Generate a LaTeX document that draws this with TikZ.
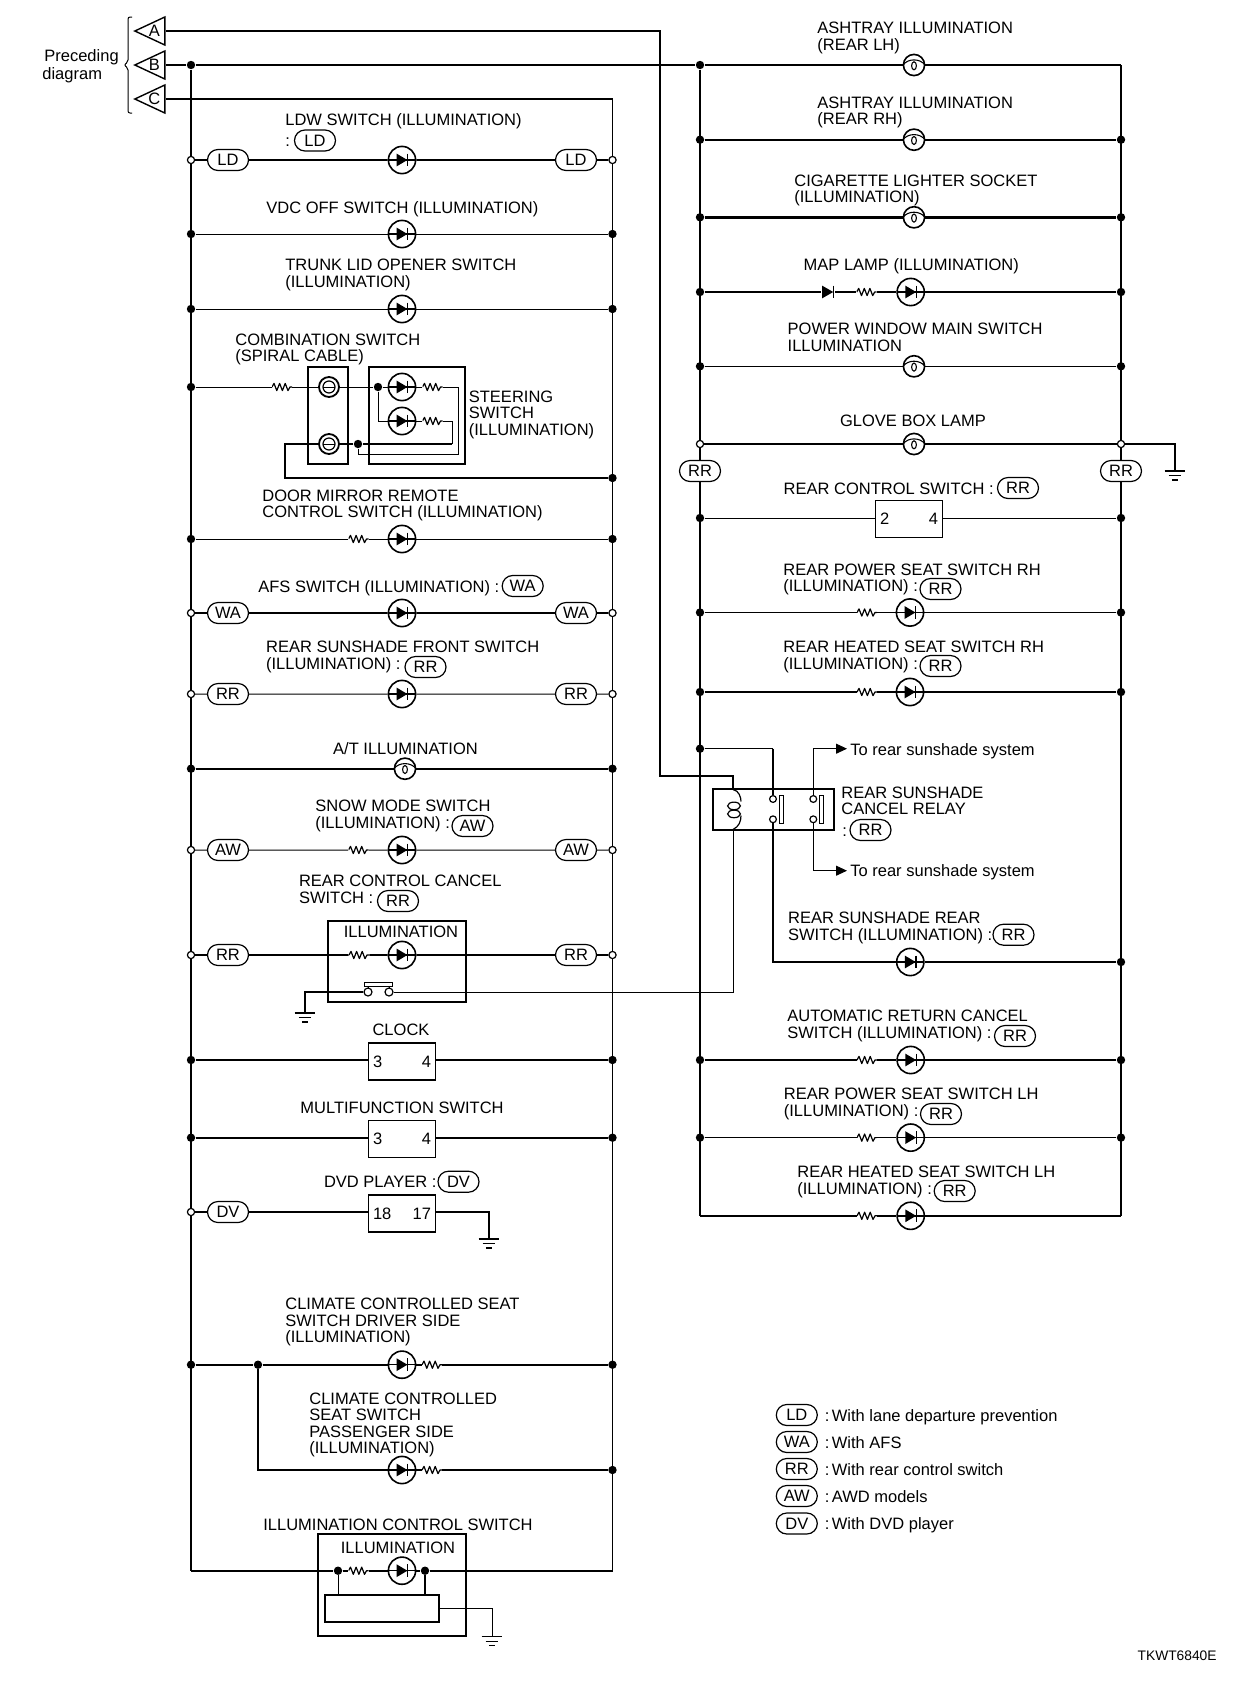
\documentclass[tikz,border=0pt]{standalone}
\usepackage{fontspec}
\setmainfont{Liberation Sans}
\usetikzlibrary{arrows.meta,shapes.geometric,shapes.misc}
\newcommand{\lblfont}{\fontsize{8.25}{8.25}\selectfont}
\tikzset{
  sym/.style={shift={(path picture bounding box.center)}},
  wire/.style={line width=.85pt},
  wirethin/.style={line width=.5pt},
  wirebold/.style={line width=1.2pt},
  lab/.style={anchor=base west,inner sep=0pt,align=left,font=\lblfont,yshift=-3pt},
  labc/.style={lab,anchor=base,align=center},
  dot/.style={circle,fill,inner sep=0pt,minimum size=4.2pt},
  odot/.style={circle,draw,fill=white,line width=.6pt,inner sep=0pt,minimum size=3.6pt},
  cont/.style={odot,minimum size=3.4pt},
  pill/.style={rounded rectangle,draw,fill=white,line width=.6pt,inner sep=0pt,minimum width=20.5pt,minimum height=10.5pt,font=\lblfont},
  box/.style={rectangle,draw,line width=.7pt,inner sep=0pt},
  modbox/.style={box,minimum width=33.5pt,minimum height=18.5pt,font=\lblfont},
  tri/.style={isosceles triangle,isosceles triangle stretches,shape border rotate=180,draw,line width=.7pt,inner sep=0pt,minimum height=15pt,minimum width=14pt,font=\lblfont,anchor=apex},
  led/.style={circle,draw,line width=.8pt,inner sep=0pt,minimum size=13.6pt,path picture={
    \draw[sym,line width=.7pt] (-7pt,0pt) -- (7pt,0pt);
    \fill[sym] (-2.7pt,3.2pt) -- (2.7pt,0pt) -- (-2.7pt,-3.2pt) -- cycle;
    \draw[sym,line width=.8pt] (2.8pt,3.2pt) -- (2.8pt,-3.2pt);}},
  lamp/.style={circle,draw,line width=.8pt,inner sep=0pt,minimum size=10.6pt,path picture={
    \draw[sym,line width=.55pt] (-5.5pt,0pt) .. controls (-3pt,3.4pt) and (3pt,3.4pt) .. (5.5pt,0pt);
    \draw[sym,line width=.55pt] (0pt,-.4pt) ellipse [x radius=1.2pt,y radius=2pt];}},
  spiral/.style={circle,draw,line width=.9pt,inner sep=0pt,minimum size=10pt,path picture={
    \draw[sym,line width=.6pt] (0pt,0pt) circle (3pt);
    \draw[sym,line width=.5pt] (-3pt,0pt) -- (3pt,0pt);}},
  resistor/.style={inner sep=0pt,minimum width=10pt,minimum height=6pt,path picture={
    \draw[sym,line width=.6pt,line join=round] (-5pt,0pt) -- (-4pt,1.8pt) -- (-2.6pt,-1.8pt) -- (-1.2pt,1.8pt)
      -- (.2pt,-1.8pt) -- (1.6pt,1.8pt) -- (3pt,-1.8pt) -- (4pt,0pt) -- (5pt,0pt);}},
  diode/.style={inner sep=0pt,minimum width=7pt,minimum height=7pt,path picture={
    \fill[sym] (-3pt,3.2pt) -- (2.6pt,0pt) -- (-3pt,-3.2pt) -- cycle;
    \draw[sym,line width=.8pt] (2.8pt,3.2pt) -- (2.8pt,-3.2pt);}},
  coilsym/.style={inner sep=0pt,minimum width=12pt,minimum height=20.5pt,path picture={
    \draw[sym,line width=.6pt] (0pt,10pt) .. controls (3pt,9.5pt) and (4pt,6pt) .. (4pt,4pt);
    \draw[sym,line width=.6pt] (.5pt,1.8pt) ellipse [x radius=3.2pt,y radius=1.9pt];
    \draw[sym,line width=.6pt] (.5pt,-2.2pt) ellipse [x radius=3.2pt,y radius=1.9pt];
    \draw[sym,line width=.6pt] (4pt,-3pt) .. controls (4pt,-6pt) and (3pt,-8.5pt) .. (0pt,-10pt);}},
  gnd/.style={anchor=north,inner sep=0pt,minimum width=10.4pt,minimum height=5.4pt,path picture={
    \draw[sym,line width=.6pt] (-5.2pt,2.4pt) -- (5.2pt,2.4pt);
    \draw[sym,line width=.6pt] (-3.2pt,.2pt) -- (3.2pt,.2pt);
    \draw[sym,line width=.8pt] (-1.6pt,-2pt) -- (1.6pt,-2pt);}}
}
\begin{document}
\begin{tikzpicture}[x=.5pt,y=-.5pt]
    \path[use as bounding box] (0,0) rectangle (1248,1682);

    % Connectors from the preceding diagram
    \node[lab,font=\fontsize{8.25}{9}\selectfont] (prec) at (42,73) {\hspace*{1pt}Preceding\\diagram};
    \draw[line width=.5pt,rounded corners=1pt] (132,17) -- (128,17) -- (128,62) -- (124,65) -- (128,68) -- (128,113) -- (132,113);
    \node[tri] (triA) at (133,31) {\hspace*{-5pt}A};
    \node[tri] (triB) at (133,65) {\hspace*{-5pt}B};
    \node[tri] (triC) at (133,99) {\hspace*{-5pt}C};

    % Buses
    \coordinate (busRtop) at (1121,65);
    \coordinate (busLbot) at (191,1570.7);
    \coordinate (thinTop) at (612.5,99);
    \coordinate (thinBot) at (612.5,1570.7);
    \coordinate (rhLbot) at (700,1215.8);
    \coordinate (rhRbot) at (1121,1215.8);
    \coordinate (cornA) at (660,776);
    \node[dot] (busL) at (191,65) {};
    \node[dot] (rhL) at (700,65) {};
    \draw[wire] (busL) -- (busLbot);
    \draw[wire] (triC.lower side) -- (thinTop);
    \draw[wirethin] (thinTop) -- (thinBot);
    \draw[wire] (rhL) -- (rhLbot);
    \draw[wire] (busRtop) -- (rhRbot);
    \draw[wire] (triB.lower side) -- (busL) -- (rhL);

    % Left side, top rows
    \node[lab] (ldwT) at (285,119) {LDW SWITCH (ILLUMINATION)};
    \node[lab] (ldwC) at (285,140) {:};
    \node[pill] (ldwP) at (315,140.5) {LD};
    \node[odot] (ldwL) at (191,160) {};
    \node[pill] (ldwA) at (228,160) {LD};
    \node[led] (ldw) at (402,160) {};
    \node[pill] (ldwB) at (576,160) {LD};
    \node[odot] (ldwR) at (612.5,160) {};
    \draw[wire] (ldwL) -- (ldwA) -- (ldw) -- (ldwB) -- (ldwR);

    \node[lab] (vdcT) at (266,207) {VDC OFF SWITCH (ILLUMINATION)};
    \node[dot] (vdcL) at (191,234) {};
    \node[led] (vdc) at (402,234) {};
    \node[dot] (vdcR) at (612.5,234) {};
    \draw[wirethin] (vdcL) -- (vdc) -- (vdcR);

    \node[lab] (trkT) at (285,281) {TRUNK LID OPENER SWITCH\\(ILLUMINATION)};
    \node[dot] (trkL) at (191,309) {};
    \node[led] (trk) at (402,309) {};
    \node[dot] (trkR) at (612.5,309) {};
    \draw[wirethin] (trkL) -- (trk) -- (trkR);

    % Combination switch and steering switch
    \node[lab] (cmbT) at (235,355.5) {COMBINATION SWITCH\\(SPIRAL CABLE)};
    \node[lab] (strT) at (468.5,429) {STEERING\\SWITCH\\(ILLUMINATION)};
    \node[box,minimum width=20pt,minimum height=48.5pt,line width=.6pt] (cmbBox) at (328,415.5) {};
    \node[box,minimum width=48pt,minimum height=48.5pt] (strBox) at (417,415.5) {};
    \node[dot] (cmbL) at (191,387) {};
    \node[resistor] (cmbRes) at (282,387) {};
    \node[spiral] (sp1) at (329,387) {};
    \node[spiral] (sp2) at (329,444) {};
    \node[dot] (strJa) at (378,387) {};
    \node[dot] (strJb) at (358,444) {};
    \node[led] (st1) at (402,387) {};
    \node[led] (st2) at (402,421) {};
    \node[resistor] (st1R) at (432.5,387) {};
    \node[resistor] (st2R) at (432.5,421) {};
    \node[dot] (harnR) at (612.5,478) {};
    \coordinate (st1C) at (458,454);
    \coordinate (st2C) at (452,444);
    \coordinate (harnC) at (285,444);
    \draw[wirethin] (cmbL) -- (cmbRes) -- (sp1) -- (strJa) -- (st1) -- (st1R) -| (st1C) -| (strJb);
    \draw[wirethin] (strJa) |- (st2) -- (st2R) -| (st2C);
    \draw[wire] (st2C) -- (strJb) -- (sp2) -- (harnC) |- (harnR);

    % Left side, middle rows
    \node[lab] (dmrT) at (262,511.7) {DOOR MIRROR REMOTE\\CONTROL SWITCH (ILLUMINATION)};
    \node[dot] (dmrL) at (191,539) {};
    \node[resistor] (dmrRes) at (358.5,539) {};
    \node[led] (dmr) at (402,539) {};
    \node[dot] (dmrR) at (612.5,539) {};
    \draw[wirethin] (dmrL) -- (dmrRes) -- (dmr) -- (dmrR);

    \node[lab] (afsT) at (258,586) {AFS SWITCH (ILLUMINATION) :};
    \node[pill] (afsP) at (522.7,586) {WA};
    \node[odot] (afsL) at (191,613) {};
    \node[pill] (afsA) at (228,613) {WA};
    \node[led] (afs) at (402,613) {};
    \node[pill] (afsB) at (576,613) {WA};
    \node[odot] (afsR) at (612.5,613) {};
    \draw[wire] (afsL) -- (afsA) -- (afs) -- (afsB) -- (afsR);

    \node[lab] (rsfT) at (265.7,663) {REAR SUNSHADE FRONT SWITCH\\(ILLUMINATION) :};
    \node[pill] (rsfP) at (425.5,667) {RR};
    \node[odot] (rsfL) at (191,694) {};
    \node[pill] (rsfA) at (228,694) {RR};
    \node[led] (rsf) at (402,694) {};
    \node[pill] (rsfB) at (576,694) {RR};
    \node[odot] (rsfR) at (612.5,694) {};
    \draw[wirethin] (rsfL) -- (rsfA) -- (rsf) -- (rsfB) -- (rsfR);

    \node[labc] (atT) at (405.5,748) {A/T ILLUMINATION};
    \node[dot] (atL) at (191,768.7) {};
    \node[lamp] (at) at (405,768.7) {};
    \node[dot] (atR) at (612.5,768.7) {};
    \draw[wirebold] (atL) -- (at) -- (atR);

    \node[lab] (snwT) at (315,822) {SNOW MODE SWITCH\\(ILLUMINATION) :};
    \node[pill] (snwP) at (472.5,826) {AW};
    \node[odot] (snwL) at (191,850) {};
    \node[pill] (snwA) at (228,850) {AW};
    \node[resistor] (snwRes) at (358.5,850) {};
    \node[led] (snw) at (402,850) {};
    \node[pill] (snwB) at (576,850) {AW};
    \node[odot] (snwR) at (612.5,850) {};
    \draw[wirethin] (snwL) -- (snwA) -- (snwRes) -- (snw) -- (snwB) -- (snwR);

    % Rear control cancel switch
    \node[lab] (rccT) at (298.6,897) {REAR CONTROL CANCEL\\SWITCH :};
    \node[pill] (rccP) at (398,901) {RR};
    \node[box,minimum width=69pt,minimum height=40.5pt] (rccBox) at (397,961.5) {};
    \node[labc] (rccI) at (401,931) {ILLUMINATION};
    \node[odot] (rccL) at (191,955) {};
    \node[pill] (rccA) at (228,955) {RR};
    \node[resistor] (rccRes) at (359,955) {};
    \node[led] (rcc) at (402,955) {};
    \node[pill] (rccB) at (576,955) {RR};
    \node[odot] (rccR) at (612.5,955) {};
    \draw[wire] (rccL) -- (rccA) -- (rccRes) -- (rcc) -- (rccB) -- (rccR);
    \node[cont,minimum size=4pt] (swL) at (368,992) {};
    \node[cont,minimum size=4pt] (swR) at (389,992) {};
    \node[box,fill=white,minimum width=14pt,minimum height=2pt,line width=.5pt] (swBar) at (378.5,984.5) {};
    \draw[wirethin] (swL) -- (swL |- swBar.south);
    \draw[wirethin] (swR) -- (swR |- swBar.south);
    \node[gnd] (gndA) at (305,1012) {};
    \draw[wire] (swL) -| (gndA.north);

    % Clock, multifunction switch and DVD player
    \node[labc] (clkT) at (401,1029) {CLOCK};
    \node[dot] (clkL) at (191,1060) {};
    \node[modbox] (clk) at (402,1061.5) {\makebox[29pt]{3\hfill4}};
    \node[dot] (clkR) at (612.5,1060) {};
    \draw[wire] (clkL) -- (clkL -| clk.west);
    \draw[wire] (clkR -| clk.east) -- (clkR);

    \node[labc] (mfsT) at (402,1107) {MULTIFUNCTION SWITCH};
    \node[dot] (mfsL) at (191,1137.7) {};
    \node[modbox] (mfs) at (402,1139) {\makebox[29pt]{3\hfill4}};
    \node[dot] (mfsR) at (612.5,1137.7) {};
    \draw[wire] (mfsL) -- (mfsL -| mfs.west);
    \draw[wire] (mfsR -| mfs.east) -- (mfsR);

    \node[lab] (dvdT) at (323.6,1181.7) {DVD PLAYER :};
    \node[pill] (dvdP) at (458.5,1181.7) {DV};
    \node[odot] (dvdL) at (191,1212) {};
    \node[pill] (dvdA) at (228,1212) {DV};
    \node[modbox] (dvd) at (402,1213.5) {\makebox[29pt]{18\hfill17}};
    \node[gnd] (gndB) at (489,1238) {};
    \draw[wire] (dvdL) -- (dvdA) -- (dvdA -| dvd.west);
    \draw[wire] (dvdA -| dvd.east) -| (gndB.north);

    % Climate controlled seat switches
    \node[lab] (ccdT) at (285,1336.6) {CLIMATE CONTROLLED SEAT\\SWITCH DRIVER SIDE\\(ILLUMINATION)};
    \node[dot] (ccdL) at (191,1364.7) {};
    \node[dot] (ccdJ) at (258,1364.7) {};
    \node[led] (ccd) at (402,1364.7) {};
    \node[resistor] (ccdRes) at (432,1364.7) {};
    \node[dot] (ccdR) at (612.5,1364.7) {};
    \draw[wire] (ccdL) -- (ccdJ) -- (ccd) -- (ccdRes) -- (ccdR);
    \node[lab] (ccpT) at (309,1447.7) {CLIMATE CONTROLLED\\SEAT SWITCH\\PASSENGER SIDE\\(ILLUMINATION)};
    \node[led] (ccp) at (402,1470) {};
    \node[resistor] (ccpRes) at (432,1470) {};
    \node[dot] (ccpR) at (612.5,1470) {};
    \draw[wire] (ccdJ) |- (ccp) -- (ccpRes) -- (ccpR);

    % Illumination control switch
    \node[labc] (ilcT) at (398,1524) {ILLUMINATION CONTROL SWITCH};
    \node[box,minimum width=74pt,minimum height=51pt] (ilcBox) at (392,1585) {};
    \node[labc] (ilcI) at (398,1547) {ILLUMINATION};
    \node[dot] (ilcA) at (338,1570.7) {};
    \node[resistor] (ilcRes) at (358.5,1570.7) {};
    \node[led] (ilc) at (402,1570.7) {};
    \node[dot] (ilcB) at (425,1570.7) {};
    \node[box,minimum width=57.2pt,minimum height=13.5pt,line width=.85pt] (ilcUnit) at (382,1608.5) {};
    \node[gnd] (gndC) at (492,1635.7) {};
    \draw[wire] (busLbot) -- (ilcA) -- (ilcRes) -- (ilc) -- (ilcB) -- (thinBot);
    \draw[wirethin] (ilcA) -- (ilcA |- ilcUnit.north);
    \draw[wire] (ilcB) -- (ilcB |- ilcUnit.north);
    \draw[wirethin] (ilcUnit.east) -| (gndC.north);

    % Right side, top rows
    \node[lab] (ashLT) at (817,44) {ASHTRAY ILLUMINATION\\(REAR LH)};
    \node[lamp] (ashL) at (914,65) {};
    \draw[wire] (rhL) -- (ashL) -- (busRtop);

    \node[lab] (ashRT) at (817,118.5) {ASHTRAY ILLUMINATION\\(REAR RH)};
    \node[dot] (ashRa) at (700,139.7) {};
    \node[lamp] (ashR) at (914,139.7) {};
    \node[dot] (ashRb) at (1121,139.7) {};
    \draw[wire] (ashRa) -- (ashR) -- (ashRb);

    \node[lab] (cigT) at (794,196.7) {CIGARETTE LIGHTER SOCKET\\(ILLUMINATION)};
    \node[dot] (ciga) at (700,217.3) {};
    \node[lamp] (cig) at (914,217.3) {};
    \node[dot] (cigb) at (1121,217.3) {};
    \draw[wirebold] (ciga) -- (cig) -- (cigb);

    \node[lab] (mapT) at (803.3,264.5) {MAP LAMP (ILLUMINATION)};
    \node[dot] (mapa) at (700,292) {};
    \node[diode] (mapD) at (828,292) {};
    \node[resistor] (mapRes) at (866.7,292) {};
    \node[led] (map) at (910.7,292) {};
    \node[dot] (mapb) at (1121,292) {};
    \draw[wire] (mapa) -- (mapD) -- (mapRes) -- (map) -- (mapb);

    \node[lab] (pwmT) at (787.3,345.3) {POWER WINDOW MAIN SWITCH\\ILLUMINATION};
    \node[dot] (pwma) at (700,366.3) {};
    \node[lamp] (pwm) at (914,366.3) {};
    \node[dot] (pwmb) at (1121,366.3) {};
    \draw[wirethin] (pwma) -- (pwm) -- (pwmb);

    \node[labc] (glvT) at (913,420) {GLOVE BOX LAMP};
    \node[odot] (glva) at (700,444) {};
    \node[lamp] (glv) at (914,444) {};
    \node[odot] (glvb) at (1121,444) {};
    \node[gnd] (gndD) at (1175,470) {};
    \draw[wire] (glva) -- (glv) -- (glvb);
    \draw[wire] (glvb) -| (gndD.north);
    \node[pill] (rrL) at (700,471) {RR};
    \node[pill] (rrR) at (1121,471) {RR};

    % Right side, rear control rows
    \node[lab] (rcsT) at (783.3,488) {REAR CONTROL SWITCH :};
    \node[pill] (rcsP) at (1018,488) {RR};
    \node[dot] (rcsa) at (700,518) {};
    \node[modbox] (rcs) at (909,519) {\makebox[29pt]{2\hfill4}};
    \node[dot] (rcsb) at (1121,518) {};
    \draw[wirethin] (rcsa) -- (rcsa -| rcs.west);
    \draw[wirethin] (rcsb -| rcs.east) -- (rcsb);

    \node[lab] (rpsRT) at (783,585.7) {REAR POWER SEAT SWITCH RH\\(ILLUMINATION) :};
    \node[pill] (rpsRP) at (940.5,589) {RR};
    \node[dot] (rpsRa) at (700,612.5) {};
    \node[resistor] (rpsRRes) at (867,612.5) {};
    \node[led] (rpsR) at (910,612.5) {};
    \node[dot] (rpsRb) at (1121,612.5) {};
    \draw[wire] (rpsRa) -- (rpsRRes) -- (rpsR) -- (rpsRb);

    \node[lab] (rhsRT) at (783,663) {REAR HEATED SEAT SWITCH RH\\(ILLUMINATION) :};
    \node[pill] (rhsRP) at (940.5,666) {RR};
    \node[dot] (rhsRa) at (700,692) {};
    \node[resistor] (rhsRRes) at (867,692) {};
    \node[led] (rhsR) at (910,692) {};
    \node[dot] (rhsRb) at (1121,692) {};
    \draw[wire] (rhsRa) -- (rhsRRes) -- (rhsR) -- (rhsRb);

    % Rear sunshade cancel relay
    \node[box,minimum width=60.8pt,minimum height=20.5pt,line width=.85pt] (rly) at (773.5,809.5) {};
    \node[coilsym] (coil) at (733,809.5) {};
    \node[cont] (cta) at (773,799) {};
    \node[cont] (ctb) at (773,819.3) {};
    \node[cont] (ctc) at (813.3,799) {};
    \node[cont] (ctd) at (813.3,819.3) {};
    \node[box,minimum width=2pt,minimum height=13.8pt,line width=.6pt] (barA) at (781.3,809.5) {};
    \node[box,minimum width=2pt,minimum height=13.8pt,line width=.6pt] (barB) at (821.3,809.5) {};
    \node[dot] (rlyJ) at (700,748.7) {};
    \coordinate (rlyC) at (773,748.7);
    \coordinate (toA) at (847,748.7);
    \coordinate (toB) at (847,870.7);
    \node[lab] (toAT) at (850,749) {To rear sunshade system};
    \node[lab] (toBT) at (850,870.5) {To rear sunshade system};
    \draw[wirethin] (rlyJ) -- (rlyC);
    \draw[wire] (rlyC) -- (cta);
    \draw[wirethin,-{Triangle[length=5.5pt,width=5pt]}] (ctc) |- (toA);
    \draw[wirethin,-{Triangle[length=5.5pt,width=5pt]}] (ctd) |- (toB);
    \draw[wire] (triA.lower side) -| (cornA) -| (coil.north);
    \node[lab] (rlyT) at (841,808.5) {REAR SUNSHADE\\CANCEL RELAY};
    \node[lab] (rlyD) at (842,830) {:};
    \node[pill] (rlyP) at (870.5,830) {RR};
    \draw[wirethin] (swR) -| (coil.south);

    \node[lab] (rsrT) at (787.7,934.3) {REAR SUNSHADE REAR\\SWITCH (ILLUMINATION) :};
    \node[pill] (rsrP) at (1013.5,934.7) {RR};
    \node[led] (rsr) at (910.3,962) {};
    \node[dot] (rsrb) at (1121,962) {};
    \draw[wire] (ctb) |- (rsr) -- (rsrb);

    % Right side, bottom rows
    \node[lab] (arcT) at (787,1032) {AUTOMATIC RETURN CANCEL\\SWITCH (ILLUMINATION) :};
    \node[pill] (arcP) at (1015,1036) {RR};
    \node[dot] (arca) at (700,1060) {};
    \node[resistor] (arcRes) at (867,1060) {};
    \node[led] (arc) at (910.7,1060) {};
    \node[dot] (arcb) at (1121,1060) {};
    \draw[wire] (arca) -- (arcRes) -- (arc) -- (arcb);

    \node[lab] (rpsLT) at (783.5,1110) {REAR POWER SEAT SWITCH LH\\(ILLUMINATION) :};
    \node[pill] (rpsLP) at (941,1114) {RR};
    \node[dot] (rpsLa) at (700,1137.6) {};
    \node[resistor] (rpsLRes) at (867,1137.6) {};
    \node[led] (rpsL) at (910.7,1137.6) {};
    \node[dot] (rpsLb) at (1121,1137.6) {};
    \draw[wire] (rpsLa) -- (rpsLRes) -- (rpsL) -- (rpsLb);

    \node[lab] (rhsLT) at (797,1188) {REAR HEATED SEAT SWITCH LH\\(ILLUMINATION) :};
    \node[pill] (rhsLP) at (954.7,1191) {RR};
    \node[resistor] (rhsLRes) at (867,1215.8) {};
    \node[led] (rhsL) at (910.7,1215.8) {};
    \draw[wire] (rhLbot) -- (rhsLRes) -- (rhsL) -- (rhRbot);

    % Legend
    \node[pill] (legA) at (796.8,1415) {LD};
    \node[lab] (legAT) at (824.5,1415) {:\hspace{1.2pt}With lane departure prevention};
    \node[pill] (legB) at (796.8,1442) {WA};
    \node[lab] (legBT) at (824.5,1442) {:\hspace{1.2pt}With AFS};
    \node[pill] (legC) at (796.8,1469) {RR};
    \node[lab] (legCT) at (824.5,1469) {:\hspace{1.2pt}With rear control switch};
    \node[pill] (legD) at (796.8,1496) {AW};
    \node[lab] (legDT) at (824.5,1496) {:\hspace{1.2pt}AWD models};
    \node[pill] (legE) at (796.8,1523.5) {DV};
    \node[lab] (legET) at (824.5,1523.5) {:\hspace{1.2pt}With DVD player};

    \node[lab,anchor=base east,font=\fontsize{6.9}{8}\selectfont] (code) at (1217,1654) {TKWT6840E};
\end{tikzpicture}
\end{document}
